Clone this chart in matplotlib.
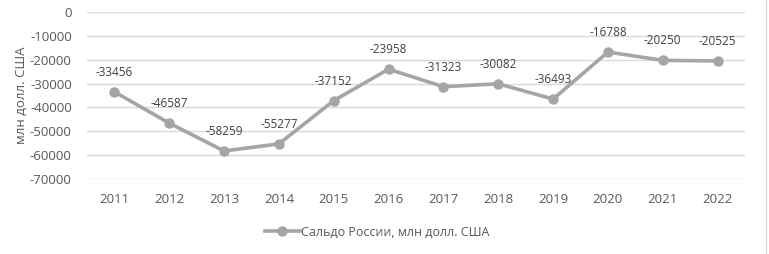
import matplotlib.pyplot as plt
from matplotlib.lines import Line2D

plt.rcParams["font.family"] = ["Open Sans", "DejaVu Sans"]
plt.rcParams["axes.unicode_minus"] = False

years = ["2011", "2012", "2013", "2014", "2015", "2016",
         "2017", "2018", "2019", "2020", "2021", "2022"]
saldo = [-33456, -46587, -58259, -55277, -37152, -23958,
         -31323, -30082, -36493, -16788, -20250, -20525]
y_ticks = [0, -10000, -20000, -30000, -40000, -50000, -60000, -70000]

LINE_COLOR = "#a5a5a5"
GRID_COLOR = "#d9d9d9"
TEXT_COLOR = "#595959"
LABEL_COLOR = "#404040"

W, H = 769, 254
fig = plt.figure(figsize=(W / 100, H / 100), dpi=100)
ax = fig.add_axes([87 / W, (H - 179) / H, (745 - 87) / W, 167 / H])

x = list(range(len(years)))
ax.plot(x, saldo, color=LINE_COLOR, linewidth=2.6, marker="o",
        markersize=6.5, markerfacecolor=LINE_COLOR, markeredgecolor=LINE_COLOR,
        zorder=3)

for xi, v in zip(x, saldo):
    ax.annotate(str(v), xy=(xi, v), xytext=(0, 14), textcoords="offset points",
                ha="center", va="center", fontsize=8.5, color=LABEL_COLOR)

ax.set_xlim(-0.5, len(years) - 0.5)
ax.set_ylim(-70000, 0)
ax.set_xticks(x)
ax.set_xticklabels(years)
ax.set_yticks(y_ticks)
ax.set_yticklabels([str(t) for t in y_ticks])
ax.tick_params(length=0, labelsize=9.5, colors=TEXT_COLOR)
ax.tick_params(axis="x", pad=10)
ax.tick_params(axis="y", pad=11)
ax.grid(axis="y", color=GRID_COLOR, linewidth=1.0, zorder=0)
ax.set_axisbelow(True)
for s in ax.spines.values():
    s.set_visible(False)

ax.set_ylabel("млн долл. США", fontsize=9.5, color=TEXT_COLOR)
ax.yaxis.set_label_coords(-0.09, 0.5)

handle = Line2D([], [], color=LINE_COLOR, linewidth=2.6, marker="o",
                markersize=6.5, markerfacecolor=LINE_COLOR,
                markeredgecolor=LINE_COLOR)
leg = fig.legend([handle], ["Сальдо России, млн долл. США"],
                 loc="center", bbox_to_anchor=(377 / W, 1 - 232 / H),
                 frameon=False, fontsize=9, handlelength=2.8,
                 handletextpad=0.1, labelcolor=TEXT_COLOR)

fig.add_artist(Line2D([766 / W, 766 / W], [0, 1], color=GRID_COLOR,
                      linewidth=1.0, transform=fig.transFigure))

fig.savefig("out.png", dpi=100)
